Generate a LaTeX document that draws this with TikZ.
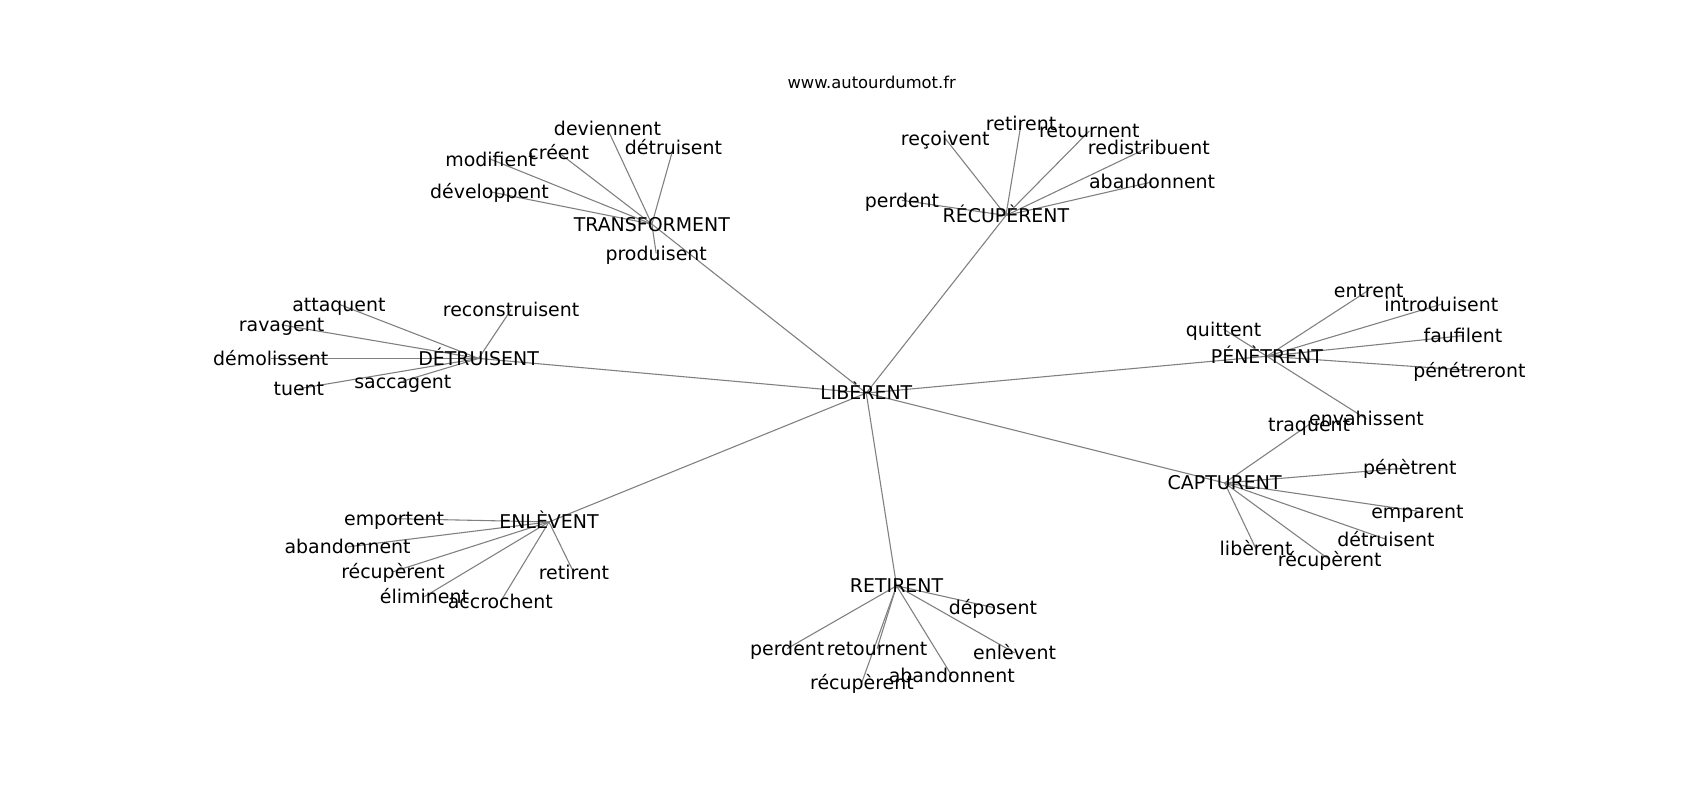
\documentclass[tikz,border=0pt]{standalone}
\usepackage{fontspec}
\setmainfont{DejaVu Sans}
\usetikzlibrary{backgrounds}
\newcommand\lblfont{\fontsize{17.5}{21}\selectfont}
\newcommand\ttlfont{\fontsize{15.1}{18}\selectfont}
\definecolor{edgegray}{RGB}{128,128,128}
\begin{document}
\begin{tikzpicture}[x=1pt,y=-1pt,
  lbl/.style={font=\lblfont, inner sep=0pt, text height=15.1pt, text depth=2.3pt},
  edge/.style={draw=edgegray, line width=1pt}]
\useasboundingbox (0,0) rectangle (1570,739);
\node[font=\ttlfont, inner sep=0pt, anchor=base] (title) at (805,81.5) {www.autourdumot.fr};
% hub
\node[lbl] (lib) at (800,363) {LIBÈRENT};
% TRANSFORMENT
\node[lbl] (tr) at (602,207) {TRANSFORMENT};
\node[lbl] (tr1) at (561,119) {deviennent};
\node[lbl] (tr2) at (622,136) {détruisent};
\node[lbl] (tr3) at (516,141) {créent};
\node[lbl] (tr4) at (453,147) {modifient};
\node[lbl] (tr5) at (452,177) {développent};
\node[lbl] (tr6) at (606,234) {produisent};
% RÉCUPÈRENT
\node[lbl] (rc) at (929,199) {RÉCUPÈRENT};
\node[lbl] (rc1) at (833,185) {perdent};
\node[lbl] (rc2) at (873,128) {reçoivent};
\node[lbl] (rc3) at (943,114) {retirent};
\node[lbl] (rc4) at (1006,121) {retournent};
\node[lbl] (rc5) at (1061,136) {redistribuent};
\node[lbl] (rc6) at (1064,168) {abandonnent};
% DÉTRUISENT
\node[lbl] (dt) at (442,331) {DÉTRUISENT};
\node[lbl] (dt1) at (313,281) {attaquent};
\node[lbl] (dt2) at (260,300) {ravagent};
\node[lbl] (dt3) at (250,331) {démolissent};
\node[lbl] (dt4) at (276,359) {tuent};
\node[lbl] (dt5) at (372,352) {saccagent};
\node[lbl] (dt6) at (472,286) {reconstruisent};
% PÉNÈTRENT
\node[lbl] (pn) at (1170,329) {PÉNÈTRENT};
\node[lbl] (pn1) at (1130,304) {quittent};
\node[lbl] (pn2) at (1264,268) {entrent};
\node[lbl] (pn3) at (1331,281) {introduisent};
\node[lbl] (pn4) at (1351,310) {faufilent};
\node[lbl] (pn5) at (1357,342) {pénétreront};
\node[lbl] (pn6) at (1262,387) {envahissent};
% CAPTURENT
\node[lbl] (cp) at (1131,446) {CAPTURENT};
\node[lbl] (cp1) at (1209,392) {traquent};
\node[lbl] (cp2) at (1302,432) {pénètrent};
\node[lbl] (cp3) at (1309,472) {emparent};
\node[lbl] (cp4) at (1280,498) {détruisent};
\node[lbl] (cp5) at (1160,507) {libèrent};
\node[lbl] (cp6) at (1228,517) {récupèrent};
% ENLÈVENT
\node[lbl] (en) at (507,482) {ENLÈVENT};
\node[lbl] (en1) at (364,479) {emportent};
\node[lbl] (en2) at (321,505) {abandonnent};
\node[lbl] (en3) at (363,528) {récupèrent};
\node[lbl] (en4) at (392,551) {éliminent};
\node[lbl] (en5) at (462,556) {accrochent};
\node[lbl] (en6) at (530,529) {retirent};
% RETIRENT
\node[lbl] (rt) at (828,541) {RETIRENT};
\node[lbl] (rt1) at (917,561) {déposent};
\node[lbl] (rt2) at (727,599) {perdent};
\node[lbl] (rt3) at (810,599) {retournent};
\node[lbl] (rt4) at (796,630) {récupèrent};
\node[lbl] (rt5) at (879,624) {abandonnent};
\node[lbl] (rt6) at (937,603) {enlèvent};
\begin{pgfonlayer}{background}
\fill[white] (0,0) rectangle (1570,739);
\foreach \n in {tr,rc,dt,pn,cp,en,rt} \draw[edge] (lib.center) -- (\n.center);
\foreach \n in {tr1,tr2,tr3,tr4,tr5,tr6} \draw[edge] (tr.center) -- (\n.center);
\foreach \n in {rc1,rc2,rc3,rc4,rc5,rc6} \draw[edge] (rc.center) -- (\n.center);
\foreach \n in {dt1,dt2,dt3,dt4,dt5,dt6} \draw[edge] (dt.center) -- (\n.center);
\foreach \n in {pn1,pn2,pn3,pn4,pn5,pn6} \draw[edge] (pn.center) -- (\n.center);
\foreach \n in {cp1,cp2,cp3,cp4,cp5,cp6} \draw[edge] (cp.center) -- (\n.center);
\foreach \n in {en1,en2,en3,en4,en5,en6} \draw[edge] (en.center) -- (\n.center);
\foreach \n in {rt1,rt2,rt3,rt4,rt5,rt6} \draw[edge] (rt.center) -- (\n.center);
\end{pgfonlayer}
\end{tikzpicture}
\end{document}
